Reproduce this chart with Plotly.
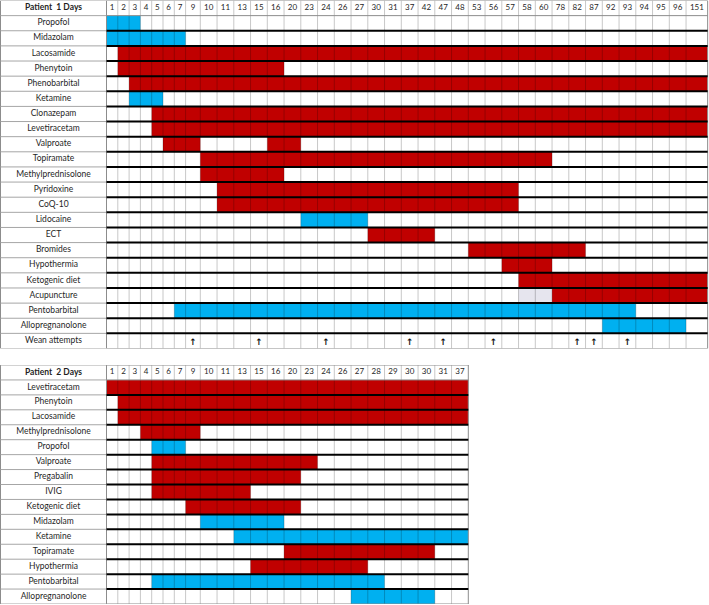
import numpy as np
import plotly.graph_objects as go

# ---------------- data ----------------
days_p1 = [1, 2, 3, 4, 5, 6, 7, 9, 10, 11, 13, 15, 16, 20, 23, 24, 26, 27, 30, 31,
           37, 42, 47, 48, 53, 56, 57, 58, 60, 78, 82, 87, 92, 93, 94, 95, 96, 151]
rows_p1 = ["Propofol", "Midazolam", "Lacosamide", "Phenytoin", "Phenobarbital", "Ketamine",
           "Clonazepam", "Levetiracetam", "Valproate", "Topiramate", "Methylprednisolone",
           "Pyridoxine", "CoQ-10", "Lidocaine", "ECT", "Bromides", "Hypothermia",
           "Ketogenic diet", "Acupuncture", "Pentobarbital", "Allopregnanolone", "Wean attempts"]

# patient 1 treatment spans (first day, last day)
span_p1_drug = ["Propofol", "Midazolam", "Lacosamide", "Phenytoin", "Phenobarbital", "Ketamine",
                "Clonazepam", "Levetiracetam", "Valproate", "Valproate", "Topiramate",
                "Methylprednisolone", "Pyridoxine", "CoQ-10", "Lidocaine", "ECT", "Bromides",
                "Hypothermia", "Ketogenic diet", "Acupuncture", "Acupuncture", "Pentobarbital",
                "Allopregnanolone"]
span_p1_from = [1, 1, 2, 2, 3, 3, 5, 5, 6, 16, 10, 10, 11, 11, 23, 30, 53, 57, 58, 58, 78, 7, 92]
span_p1_to = [3, 7, 151, 16, 151, 5, 151, 151, 9, 20, 60, 16, 57, 57, 27, 42, 82, 60, 151, 60, 151, 93, 96]
span_p1_kind = ["blue", "blue", "red", "red", "red", "blue", "red", "red", "red", "red", "red",
                "red", "red", "red", "blue", "red", "red", "red", "red", "grey", "red", "blue", "blue"]
wean_p1 = [9, 15, 24, 37, 47, 56, 82, 87, 93]

days_p2 = [1, 2, 3, 4, 5, 6, 7, 9, 10, 11, 13, 15, 16, 20, 23, 24, 26, 27, 28, 29, 30, 30, 31, 37]
rows_p2 = ["Levetiracetam", "Phenytoin", "Lacosamide", "Methylprednisolone", "Propofol",
           "Valproate", "Pregabalin", "IVIG", "Ketogenic diet", "Midazolam", "Ketamine",
           "Topiramate", "Hypothermia", "Pentobarbital", "Allopregnanolone"]

# patient 2 spans by column position (day 30 is in the header twice)
span_p2_drug = rows_p2
span_p2_from = [0, 1, 1, 3, 4, 4, 4, 4, 7, 8, 10, 13, 11, 4, 17]
span_p2_to = [23, 23, 23, 7, 6, 14, 13, 10, 13, 12, 23, 21, 17, 18, 21]
span_p2_kind = ["red", "red", "red", "red", "blue", "red", "red", "red", "red", "blue",
                "blue", "red", "red", "blue", "blue"]

# ---------------- style ----------------
colors = {"red": "#c00000", "blue": "#00b0f0", "grey": "#e6e5ee"}
LABEL_W = 106
FONT = "Lato, 'DejaVu Sans', sans-serif"
TXT = "#1f1f1f"


def col_edges(days):
    w = [11.3 if d < 9 else 14.7 if d == 9 else 16.75 if d < 100 else 21.6 for d in days]
    return LABEL_W + np.concatenate([[0], np.cumsum(w)])


fig = go.Figure()


def add_table(title, days, rows, drug, c_from, c_to, kind, yname, wean=None):
    edges = col_edges(days)
    n = len(rows)
    yref = "y" if yname == "yaxis" else "y2"

    for k in colors:
        idx = [i for i in range(len(drug)) if kind[i] == k]
        if not idx:
            continue
        fig.add_trace(go.Bar(
            orientation="h",
            y=[rows.index(drug[i]) + 1 for i in idx],
            base=[edges[c_from[i]] for i in idx],
            x=[edges[c_to[i] + 1] - edges[c_from[i]] for i in idx],
            width=1,
            marker_color=colors[k],
            marker_line_width=0,
            yaxis=yref,
            hoverinfo="skip",
        ))

    # row labels + header
    fig.add_trace(go.Scatter(
        x=[LABEL_W / 2] * (n + 1),
        y=list(range(n + 1)),
        text=["<b>" + title + "</b>"] + rows,
        mode="text",
        textfont=dict(family=FONT, size=8.5, color=TXT),
        yaxis=yref,
        hoverinfo="skip",
    ))
    fig.add_trace(go.Scatter(
        x=(edges[:-1] + edges[1:]) / 2,
        y=[0] * len(days),
        text=[str(d) for d in days],
        mode="text",
        textfont=dict(family=FONT, size=8, color=TXT),
        yaxis=yref,
        hoverinfo="skip",
    ))
    if wean:
        cols = [days.index(d) for d in wean]
        fig.add_trace(go.Scatter(
            x=[(edges[c] + edges[c + 1]) / 2 for c in cols],
            y=[n + 0.1] * len(cols),
            text=["<b>↑</b>"] * len(cols),
            mode="text",
            textfont=dict(family="DejaVu Sans", size=9, color="#111"),
            yaxis=yref,
            hoverinfo="skip",
        ))

    # grid
    for e in edges[1:-1]:
        fig.add_shape(type="line", xref="x", yref=yref, x0=e, x1=e, y0=-0.5, y1=n + 0.5,
                      line=dict(color="rgba(0,0,0,0.22)", width=1), layer="above")
    for e in [0, edges[0], edges[-1]]:
        fig.add_shape(type="line", xref="x", yref=yref, x0=e, x1=e, y0=-0.5, y1=n + 0.5,
                      line=dict(color="#8c8c8c", width=1), layer="above")
    for r in range(n + 2):
        yy = r - 0.5
        fig.add_shape(type="line", xref="x", yref=yref, x0=0, x1=edges[0], y0=yy, y1=yy,
                      line=dict(color="#a6a6a6", width=1), layer="above")
        thick = 1 < r < n + 1
        fig.add_shape(type="line", xref="x", yref=yref, x0=edges[0], x1=edges[-1], y0=yy, y1=yy,
                      line=dict(color="#000000" if thick else "#8c8c8c", width=2 if thick else 1),
                      layer="above")
    return n


n1 = add_table("Patient&nbsp; 1 Days", days_p1, rows_p1,
               [d for d in span_p1_drug],
               [days_p1.index(d) for d in span_p1_from],
               [days_p1.index(d) for d in span_p1_to],
               span_p1_kind, "yaxis", wean=wean_p1)
n2 = add_table("Patient&nbsp; 2 Days", days_p2, rows_p2, span_p2_drug, span_p2_from,
               span_p2_to, span_p2_kind, "yaxis2")

ax = dict(showgrid=False, zeroline=False, showticklabels=False, showline=False, fixedrange=True)
fig.update_layout(
    width=709,
    height=605,
    margin=dict(l=0, r=0, t=0, b=0),
    paper_bgcolor="white",
    plot_bgcolor="white",
    showlegend=False,
    barmode="overlay",
    xaxis=dict(range=[-0.5, 708.5], **ax),
    yaxis=dict(range=[n1 + 0.5, -0.5], domain=[1 - 348.5 / 605, 1 - 0.5 / 605], **ax),
    yaxis2=dict(range=[n2 + 0.5, -0.5], domain=[1 - 604 / 605, 1 - 365 / 605], anchor="x", **ax),
)

fig.write_html("out.html", config={"displayModeBar": False},
               post_script="document.body.style.margin='0';")
